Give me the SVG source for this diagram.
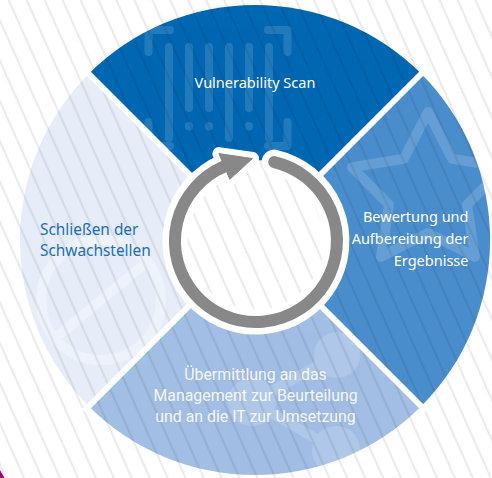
<svg xmlns="http://www.w3.org/2000/svg" width="492" height="478" viewBox="0 0 492 478">
<defs>
<pattern id="stripes" patternUnits="userSpaceOnUse" width="16.4" height="40" patternTransform="rotate(-24)">
<line x1="8" y1="-5" x2="8" y2="45" stroke="#000" stroke-opacity="0.09" stroke-width="1.8"/>
</pattern>
<path id="wTop" d="M255,240 L88.8,73.8 A235,235 0 0 1 421.2,73.8 Z"/>
<path id="wRight" d="M255,240 L421.2,73.8 A235,235 0 0 1 421.2,406.2 Z"/>
<path id="wBottom" d="M255,240 L421.2,406.2 A235,235 0 0 1 88.8,406.2 Z"/>
<path id="wLeft" d="M255,240 L88.8,406.2 A235,235 0 0 1 88.8,73.8 Z"/>
<clipPath id="cTop"><use href="#wTop"/></clipPath>
<clipPath id="cRight"><use href="#wRight"/></clipPath>
<clipPath id="cBottom"><use href="#wBottom"/></clipPath>
<clipPath id="cLeft"><use href="#wLeft"/></clipPath>
</defs>
<style>
.lbl{font-family:"Noto Sans","DejaVu Sans",sans-serif;font-size:14.5px}
.bl{font-family:Roboto,"Noto Sans",sans-serif;font-size:15.9px;fill:#fff;fill-opacity:.9}
.st{fill:url(#stripes)}
.ico{fill:none;stroke:#fff;stroke-linecap:round;stroke-linejoin:round}
</style>
<rect width="492" height="478" fill="#fff"/>
<rect width="492" height="478" class="st"/>
<polygon points="0,470 4.5,478 0,478" fill="#a1006f"/>

<g id="node-scan">
<use href="#wTop" fill="#0067b3"/>
<g clip-path="url(#cTop)" opacity="0.13" class="ico" stroke-width="8">
<path d="M148.5,52 V30 H170"/>
<path d="M268,30 H287.5 V52"/>
<path d="M148.5,122 V146 H170"/>
<path d="M287.5,122 V146 H268"/>
<path d="M169,47 V138 M229,47 V138 M269,47 V138 M189,47 V108 M209,47 V108 M249,47 V108"/>
<path d="M189,126 V126.5 M209,126 V126.5 M249,126 V126.5"/>
</g>
<use href="#wTop" class="st"/>
<text class="lbl" x="255" y="88" text-anchor="middle" fill="#fff">Vulnerability Scan</text>
</g>

<g id="node-bewertung">
<use href="#wRight" fill="#4a8dcd"/>
<g clip-path="url(#cRight)" opacity="0.15" class="ico" stroke-width="10">
<polygon points="428,112 452.1,158.8 504.1,167.3 467,204.7 475,256.7 428,233 381,256.7 389,204.7 351.9,167.3 403.9,158.8"/>
</g>
<use href="#wRight" class="st"/>
<text class="lbl" text-anchor="end" fill="#fff"><tspan x="468.5" y="222">Bewertung und</tspan><tspan x="468.5" y="244">Aufbereitung der</tspan><tspan x="468.5" y="266">Ergebnisse</tspan></text>
</g>

<g id="node-uebermittlung">
<use href="#wBottom" fill="#a2bee4"/>
<g clip-path="url(#cBottom)" opacity="0.15" fill="#fff">
<circle cx="252" cy="402" r="24"/>
<circle cx="337" cy="355" r="23"/>
<circle cx="336" cy="450" r="24"/>
<path d="M252,402 L337,355 M252,402 L336,450" stroke="#fff" stroke-width="10"/>
</g>
<use href="#wBottom" class="st"/>
<text class="bl" text-anchor="middle"><tspan x="255.5" y="380">Übermittlung an das</tspan><tspan x="255.5" y="401">Management zur Beurteilung</tspan><tspan x="255.5" y="422">und an die IT zur Umsetzung</tspan></text>
</g>

<g id="node-schliessen">
<use href="#wLeft" fill="#e7edf8"/>
<g clip-path="url(#cLeft)" opacity="0.3" class="ico" stroke="#a9c3e8" stroke-width="10">
<circle cx="101" cy="300" r="60"/>
<path d="M59,335 L143,265"/>
</g>
<use href="#wLeft" class="st"/>
<text class="lbl" fill="#1d6db8" style="font-size:15.4px"><tspan x="40" y="235">Schließen der</tspan><tspan x="40" y="256">Schwachstellen</tspan></text>
</g>

<g id="gaps" stroke="#fff" stroke-width="6">
<line x1="84" y1="69" x2="426" y2="411"/>
<line x1="426" y1="69" x2="84" y2="411"/>
</g>

<g id="center">
<circle cx="256" cy="241" r="81" fill="#fff"/>
<circle cx="256" cy="241" r="81" class="st"/>
</g>

<g id="connectors">
<path d="M274.2,162.1 A81,81 0 1 1 224.4,166.4" fill="none" stroke="#fff" stroke-width="25" stroke-linecap="round"/>
<polygon points="218.9,153.6 252.5,158.5 229.8,179.3" fill="#fff" stroke="#fff" stroke-width="13" stroke-linejoin="round"/>
<path d="M274.2,162.1 A81,81 0 1 1 224.4,166.4" fill="none" stroke="#888" stroke-width="12" stroke-linecap="round"/>
<polygon points="218.9,153.6 252.5,158.5 229.8,179.3" fill="#888" stroke="#888" stroke-width="1" stroke-linejoin="round"/>
</g>
</svg>
